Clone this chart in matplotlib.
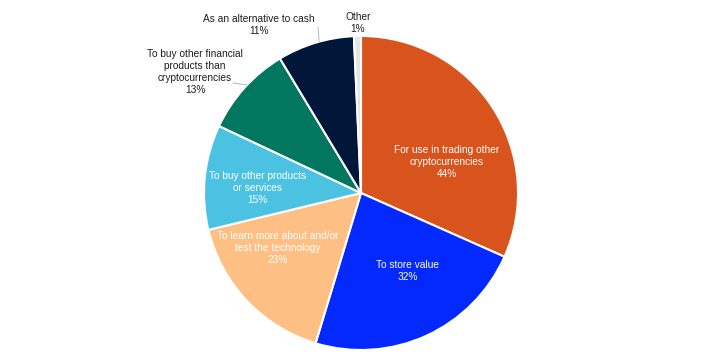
import numpy as np
import matplotlib
matplotlib.use("Agg")
import matplotlib.pyplot as plt

# Survey shares (multiple answers allowed, so they sum over 100%)
labels = ["For use in trading other\ncryptocurrencies",
          "To store value",
          "To learn more about and/or\ntest the technology",
          "To buy other products\nor services",
          "To buy other financial\nproducts than\ncryptocurrencies",
          "As an alternative to cash",
          "Other"]
shares = [44, 32, 23, 15, 13, 11, 1]
colors = ["#D9531C", "#0329FF", "#FEBF84", "#4CC2E3", "#00775E", "#00173A", "#E3E3E3"]

# label placement: (radius, angle in degrees) relative to the pie
label_pos = [(0.582, 19.8), (0.58, -59), (0.634, -146.5), (0.66, 177),
             (1.307, 144.0), (1.25, 121.3), (1.08, 91.0)]
label_color = ["white", "white", "white", "white", "#1E1E1E", "#1E1E1E", "#1E1E1E"]
# leader lines for outside labels: (start r, angle) -> (end r, angle)
leaders = {4: ((1.075, 139.3), (1.0, 136.5)),
           5: ((1.09, 104.5), (1.0, 105.5))}

plt.rcParams['font.family'] = ['Liberation Sans', 'DejaVu Sans']

fig = plt.figure(figsize=(7.22, 3.63), dpi=100)
R = 157
ax = fig.add_axes([(361 - R) / 722, (170 - R) / 363, 2 * R / 722, 2 * R / 363])
wedges, _ = ax.pie(shares, colors=colors, startangle=90, counterclock=False,
                   wedgeprops=dict(edgecolor="white", linewidth=1.5))
ax.set_xlim(-1, 1)
ax.set_ylim(-1, 1)
ax.set_aspect("equal")
ax.axis("off")

for i, (lab, val) in enumerate(zip(labels, shares)):
    r, a = label_pos[i]
    x, y = r * np.cos(np.radians(a)), r * np.sin(np.radians(a))
    ax.text(x, y, f"{lab}\n{val}%", ha="center", va="center", fontsize=7.3,
            color=label_color[i], linespacing=1.25, clip_on=False)

for i, ((r0, a0), (r1, a1)) in leaders.items():
    ax.plot([r0 * np.cos(np.radians(a0)), r1 * np.cos(np.radians(a1))],
            [r0 * np.sin(np.radians(a0)), r1 * np.sin(np.radians(a1))],
            color="#BFBFBF", linewidth=0.8, clip_on=False)

fig.savefig("out.png", dpi=100)
